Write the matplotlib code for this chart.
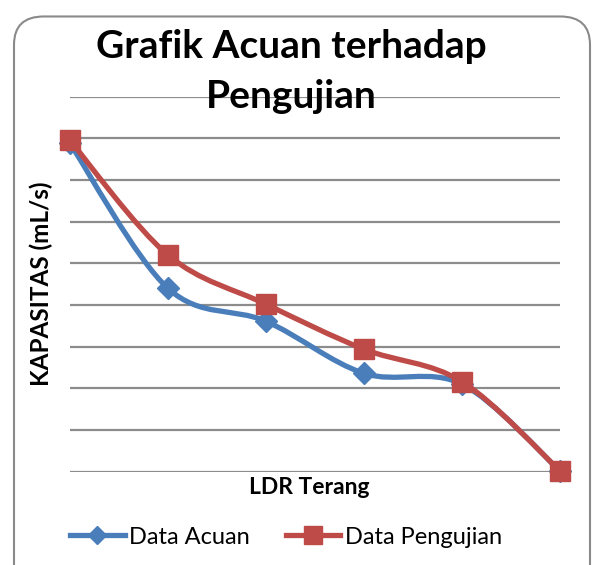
import numpy as np
import matplotlib.pyplot as plt
from matplotlib.path import Path
from matplotlib.patches import PathPatch, FancyBboxPatch
from matplotlib.lines import Line2D

# data (one unit = one gridline)
categories = [1, 2, 3, 4, 5, 6]
data_acuan = [7.88, 4.40, 3.61, 2.36, 2.10, 0.02]
data_pengujian = [7.95, 5.20, 4.02, 2.94, 2.16, 0.02]

BLUE = "#4A7EBB"
RED = "#BE4B48"
GRID = "#8C8C8C"
FONT = "Lato"


def smooth_path(x, y):
    # Excel-style smoothed line: cubic bezier through every point
    x = np.asarray(x, float)
    y = np.asarray(y, float)
    pts = np.column_stack([x, y])
    n = len(pts)
    verts = [pts[0]]
    codes = [Path.MOVETO]
    for i in range(n - 1):
        p0 = pts[max(i - 1, 0)]
        p1 = pts[i]
        p2 = pts[i + 1]
        p3 = pts[min(i + 2, n - 1)]
        c1 = p1 + (p2 - p0) / 6
        c2 = p2 - (p3 - p1) / 6
        verts += [c1, c2, p2]
        codes += [Path.CURVE4] * 3
    return Path(verts, codes)


fig = plt.figure(figsize=(5.95, 5.65), dpi=100)

# rounded chart border
border = FancyBboxPatch((14 / 595, -0.05), 576 / 595, 0.985 + 0.05 - 8 / 565,
                        boxstyle="round,pad=0,rounding_size=0.05",
                        transform=fig.transFigure, facecolor="none",
                        edgecolor="#8A8A8A", linewidth=1.5, zorder=-1)
fig.patches.append(border)

ax = fig.add_axes([70 / 595, 1 - 471.7 / 565, 490 / 595, 375 / 565])
ax.set_facecolor("none")
x = np.arange(len(categories))
ax.set_xlim(0, len(categories) - 1)
ax.set_ylim(0, 9)
ax.set_yticks(np.arange(0, 10))
ax.set_xticks([])
ax.tick_params(axis="y", length=0, labelleft=False)
ax.grid(axis="y", color=GRID, linewidth=1.6)
for s in ax.spines.values():
    s.set_visible(False)

for vals, color, marker, ms in [(data_acuan, BLUE, "D", 11),
                                (data_pengujian, RED, "s", 15)]:
    ax.add_patch(PathPatch(smooth_path(x, vals), facecolor="none",
                           edgecolor=color, linewidth=3.8,
                           capstyle="round", joinstyle="round",
                           clip_on=False, zorder=3))
    ax.plot(x, vals, linestyle="none", marker=marker, markersize=ms,
            color=color, clip_on=False, zorder=4)

fig.text(0.49, 1 - 46 / 565, "Grafik Acuan terhadap", ha="center", va="center",
         fontsize=28, fontweight="bold", family=FONT)
fig.text(0.49, 1 - 96 / 565, "Pengujian", ha="center", va="center",
         fontsize=28, fontweight="bold", family=FONT)
fig.text(41 / 595, 1 - 284 / 565, "KAPASITAS (mL/s)", ha="center", va="center",
         rotation=90, fontsize=17.5, fontweight="bold", family=FONT)
fig.text(309 / 595, 1 - 488 / 565, "LDR Terang", ha="center", va="center",
         fontsize=16.5, fontweight="bold", family=FONT)

handles = [Line2D([], [], color=BLUE, linewidth=3.8, marker="D", markersize=9),
           Line2D([], [], color=RED, linewidth=3.8, marker="s", markersize=13)]
fig.legend(handles, ["Data Acuan", "Data Pengujian"], loc="center",
           bbox_to_anchor=(286 / 595, 1 - 537 / 565), ncol=2, frameon=False,
           prop={"family": FONT, "size": 17}, handlelength=2.3,
           handletextpad=0.2, columnspacing=1.5)

fig.savefig("out.png", dpi=100)
